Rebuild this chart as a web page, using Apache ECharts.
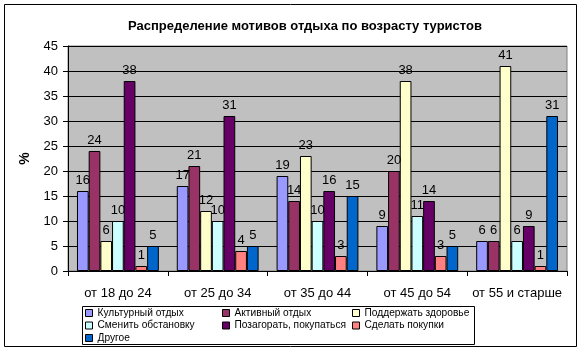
<!DOCTYPE html>
<html><head><meta charset="utf-8">
<script src="https://cdn.jsdelivr.net/npm/echarts@6/dist/echarts.min.js"></script>
<style>html,body{margin:0;padding:0;background:#fff}#c{width:581px;height:351px}</style>
</head><body><div id="c"></div>
<script>
const categories = ["от 18 до 24", "от 25 до 34", "от 35 до 44", "от 45 до 54", "от 55 и старше"];
const seriesNames = ["Культурный отдых", "Активный отдых", "Поддержать здоровье", "Сменить обстановку", "Позагорать, покупаться", "Сделать покупки", "Другое"];
const cultural = [16, 17, 19, 9, 6];
const active = [24, 21, 14, 20, 6];
const health = [6, 12, 23, 38, 41];
const change = [10, 10, 10, 11, 6];
const sunbathe = [38, 31, 16, 14, 9];
const shopping = [1, 4, 3, 3, 1];
const other = [5, 5, 15, 5, 31];
const yTicks = [0, 5, 10, 15, 20, 25, 30, 35, 40, 45];
const colors = ["#9999FF", "#993366", "#FFFFCC", "#CCFFFF", "#660066", "#FF8080", "#0066CC"];
const values = [cultural, active, health, change, sunbathe, shopping, other];

const font = "Arial, 'Liberation Sans', sans-serif";
const chart = echarts.init(document.getElementById('c'), null, {renderer: 'canvas'});
const legendStyle = {fontSize: 10.2, color: '#000', fontFamily: font, lineHeight: 12};
function mkLegend(names, left) {
  return {
    data: names, orient: 'vertical', left: left, top: 307,
    itemWidth: 7, itemHeight: 7, itemGap: 0.5, icon: 'rect',
    textStyle: legendStyle, padding: 0, selectedMode: false,
    itemStyle: {borderColor: '#000', borderWidth: 1}
  };
}
chart.setOption({
  animation: false,
  color: colors,
  title: {
    text: "Распределение мотивов отдыха по возрасту туристов",
    left: 300, top: 15, textAlign: 'center',
    textStyle: {fontSize: 13, fontWeight: 'bold', color: '#000', fontFamily: font}
  },
  graphic: [
    {type: 'rect', shape: {x: 4.5, y: 4.5, width: 572, height: 342}, style: {fill: null, stroke: '#000', lineWidth: 1}, z: -1},
    {type: 'rect', shape: {x: 82.5, y: 306.5, width: 392, height: 38}, style: {fill: '#fff', stroke: '#000', lineWidth: 1}, z: 0}
  ],
  legend: [
    mkLegend([seriesNames[0], seriesNames[3], seriesNames[6]], 85),
    mkLegend([seriesNames[1], seriesNames[4]], 222),
    mkLegend([seriesNames[2], seriesNames[5]], 352)
  ],
  grid: {left: 68, right: 14, top: 46, bottom: 80, show: true, backgroundColor: '#C0C0C0', borderColor: '#808080', borderWidth: 1},
  xAxis: {
    type: 'category', data: categories,
    axisLine: {lineStyle: {color: '#000', width: 1}},
    axisTick: {show: true, length: 5, lineStyle: {color: '#000'}},
    axisLabel: {fontSize: 13, color: '#000', fontFamily: font, margin: 16, interval: 0}
  },
  yAxis: {
    type: 'value', min: yTicks[0], max: yTicks[yTicks.length - 1], interval: 5,
    name: '%', nameLocation: 'middle', nameGap: 35, nameRotate: 90,
    nameTextStyle: {fontSize: 14, fontWeight: 'bold', color: '#000', fontFamily: font},
    axisLine: {show: true, lineStyle: {color: '#000'}},
    axisTick: {show: true, length: 5, lineStyle: {color: '#000'}},
    axisLabel: {fontSize: 13, color: '#000', fontFamily: font, margin: 10},
    splitLine: {lineStyle: {color: '#000', width: 1}}
  },
  series: seriesNames.map((n, i) => ({
    name: n, type: 'bar', data: values[i],
    barGap: 0, barCategoryGap: '18%',
    itemStyle: {color: colors[i], borderColor: '#000', borderWidth: 1},
    label: {show: true, position: 'top', distance: 4, fontSize: 13, color: '#000', fontFamily: font}
  }))
});
</script></body></html>
